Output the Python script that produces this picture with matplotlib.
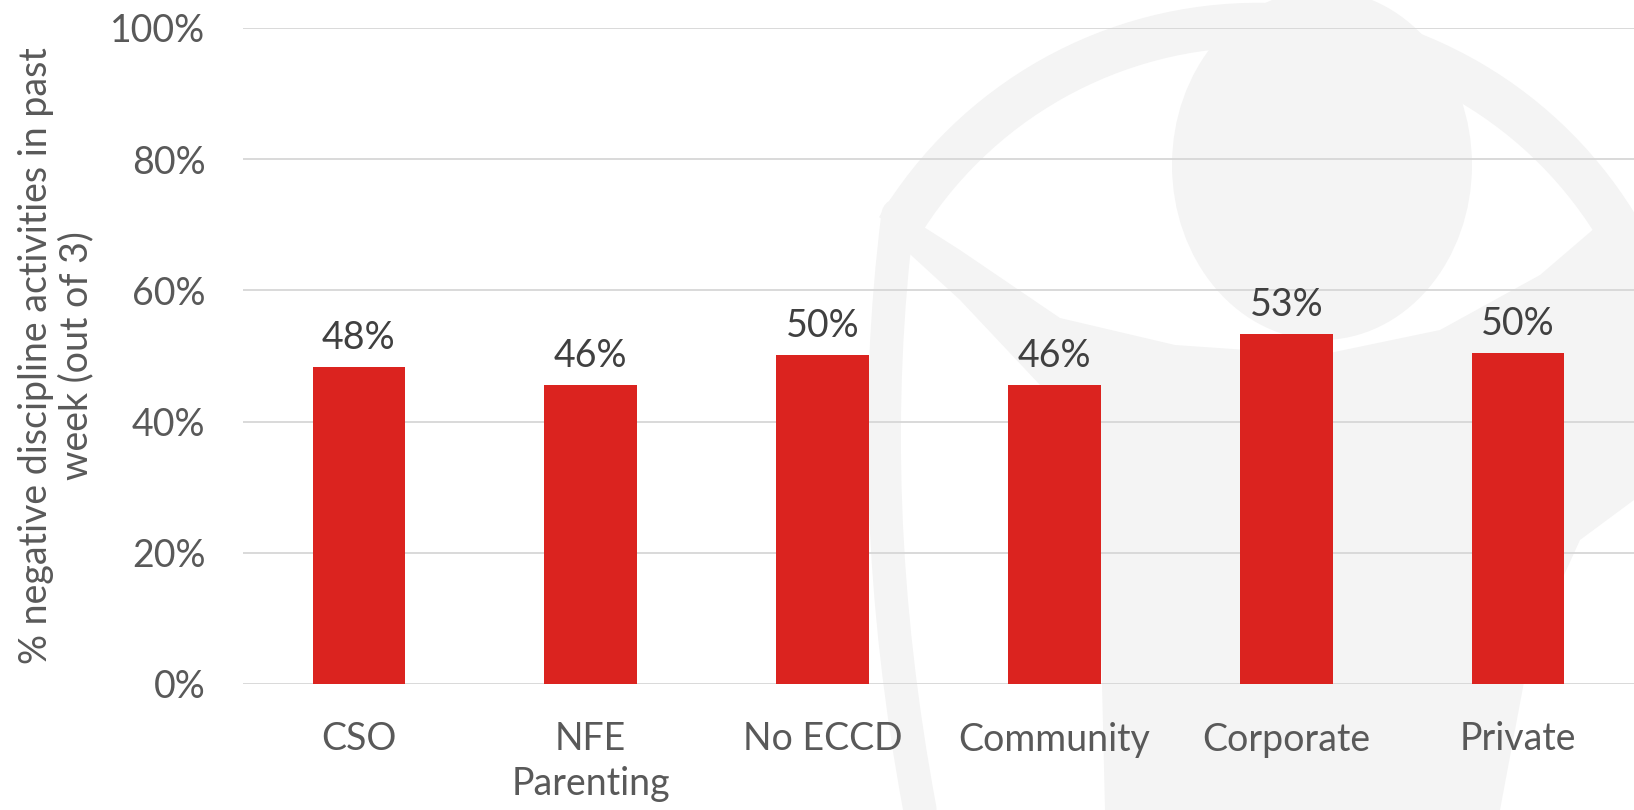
import matplotlib.pyplot as plt
from matplotlib.patches import Ellipse, Arc, Polygon, PathPatch
from matplotlib.path import Path

plt.rcParams['font.family'] = ['Lato', 'DejaVu Sans']

categories = ["CSO", "NFE\nParenting", "No ECCD", "Community", "Corporate", "Private"]
neg_discipline = [0.483, 0.456, 0.502, 0.456, 0.533, 0.504]
y_ticks = [0.0, 0.2, 0.4, 0.6, 0.8, 1.0]
y_label = "% negative discipline activities in past\nweek (out of 3)"

bar_color = "#DB231F"
grid_color = "#D9D9D9"
text_color = "#595959"
label_color = "#404040"
mark_color = "#F4F4F4"

W, H = 1634, 810
fig = plt.figure(figsize=(W / 100, H / 100), dpi=100)

# faint eye logo in the background, laid out in pixel units
bg = fig.add_axes([0, 0, 1, 1], zorder=0)
bg.set_xlim(0, W)
bg.set_ylim(H, 0)
bg.axis("off")
bg.add_patch(Polygon([(905, 215), (960, 250), (1060, 318), (1175, 345), (1320, 355),
                      (1440, 330), (1540, 275), (1610, 215), (1634, 225), (1634, 500),
                      (1580, 540), (1530, 650), (1500, 810), (1105, 810), (1100, 600),
                      (1095, 440), (1040, 385), (960, 300), (900, 245)],
                     closed=True, facecolor=mark_color, edgecolor="none"))
bg.add_patch(Ellipse((1322, 165), 300, 350, facecolor=mark_color, edgecolor="none"))
bg.add_patch(Arc((1258, 445), 840, 840, theta1=211, theta2=330,
                 color=mark_color, lw=32))
side = Path([(898, 215), (862, 500), (920, 810)],
            [Path.MOVETO, Path.CURVE3, Path.CURVE3])
bg.add_patch(PathPatch(side, facecolor="none", edgecolor=mark_color, lw=24,
                       capstyle="round"))

ax = fig.add_axes([243 / W, 1 - 684 / H, 1 - 243 / W, (684 - 28) / H], zorder=1)
ax.patch.set_alpha(0)

x = range(len(categories))
bars = ax.bar(x, neg_discipline, width=0.4, color=bar_color, zorder=3)
ax.bar_label(bars, labels=[f"{v * 100:.0f}%" for v in neg_discipline],
             padding=8, fontsize=27, color=label_color)

ax.set_xlim(-0.5, len(categories) - 0.5)
ax.set_ylim(0, 1.0)
ax.set_yticks(y_ticks)
ax.set_yticklabels([f"{t * 100:.0f}%" for t in y_ticks])
ax.set_xticks(list(x))
ax.set_xticklabels(categories, linespacing=1.3)

ax.tick_params(axis="both", length=0, labelsize=27, labelcolor=text_color)
ax.tick_params(axis="y", pad=27)
ax.tick_params(axis="x", pad=27)
ax.grid(axis="y", color=grid_color, lw=1.4, zorder=0)
ax.set_axisbelow(True)
for s in ax.spines.values():
    s.set_visible(False)

ax.set_ylabel(y_label, fontsize=27, color=text_color, va="center", linespacing=1.15)
ax.yaxis.set_label_coords((56 - 243) / (W - 243), 0.5)

fig.savefig("out.png", dpi=100)
